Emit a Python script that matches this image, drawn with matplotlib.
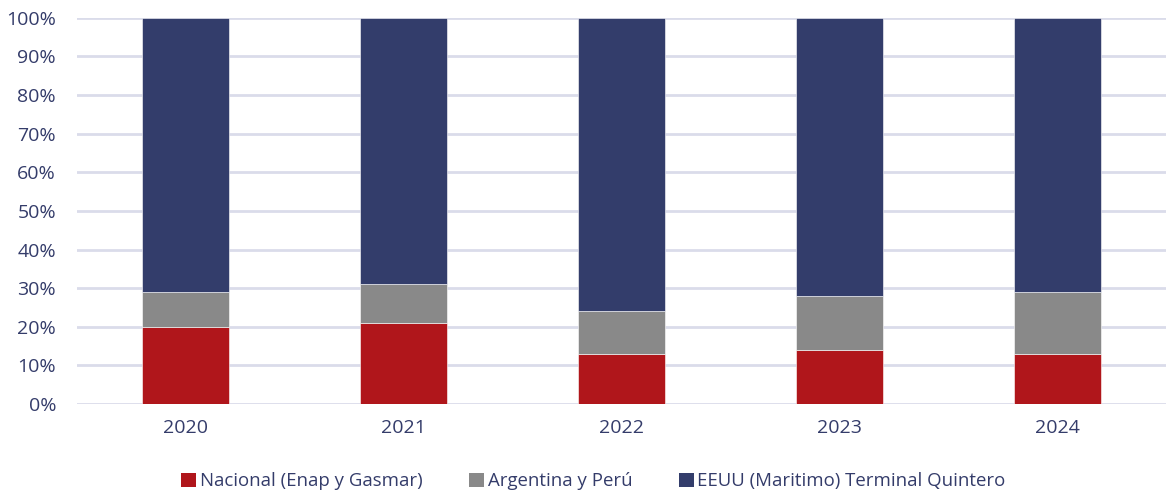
import matplotlib
matplotlib.use("Agg")
import matplotlib.pyplot as plt
import numpy as np
from matplotlib.ticker import PercentFormatter
from matplotlib.patches import Patch

years = ["2020", "2021", "2022", "2023", "2024"]
nacional = [20, 21, 13, 14, 13]
argentina_peru = [9, 10, 11, 14, 16]
eeuu_quintero = [71, 69, 76, 72, 71]

labels = [
    "Nacional (Enap y Gasmar)",
    "Argentina y Perú",
    "EEUU (Maritimo) Terminal Quintero",
]
colors = ["#b0161b", "#898989", "#333d6b"]
text_color = "#343c6a"
grid_color = "#dadcea"

plt.rcParams["font.family"] = ["Open Sans", "DejaVu Sans"]

fig = plt.figure(figsize=(11.66, 4.94), dpi=100)
ax = fig.add_axes([0.066, 0.182, 0.934, 0.782])

x = np.arange(len(years))
width = 0.4
bottom = np.zeros(len(years))
for values, color in zip([nacional, argentina_peru, eeuu_quintero], colors):
    ax.bar(x, values, width, bottom=bottom, color=color, zorder=3,
           edgecolor="white", linewidth=0.4)
    bottom += np.array(values)

ax.set_xlim(-0.5, len(years) - 0.5)
ax.set_ylim(0, 100)
ax.set_yticks(np.arange(0, 101, 10))
ax.yaxis.set_major_formatter(PercentFormatter(decimals=0))
ax.set_xticks(x)
ax.set_xticklabels(years)

ax.grid(True, axis="y", color=grid_color, linewidth=2, zorder=0)
for spine in ax.spines.values():
    spine.set_visible(False)
ax.tick_params(axis="both", length=0, labelsize=14, colors=text_color)
ax.tick_params(axis="y", pad=15)
ax.tick_params(axis="x", pad=11)

handles = [Patch(facecolor=c, edgecolor="none") for c in colors]
leg = fig.legend(handles, labels, loc="center", bbox_to_anchor=(0.509, 0.026),
                 ncol=3, frameon=False, fontsize=13.4, handlelength=0.8,
                 handleheight=0.8, handletextpad=0.2, columnspacing=2.5)
for t in leg.get_texts():
    t.set_color(text_color)

fig.savefig("out.png", dpi=100)
